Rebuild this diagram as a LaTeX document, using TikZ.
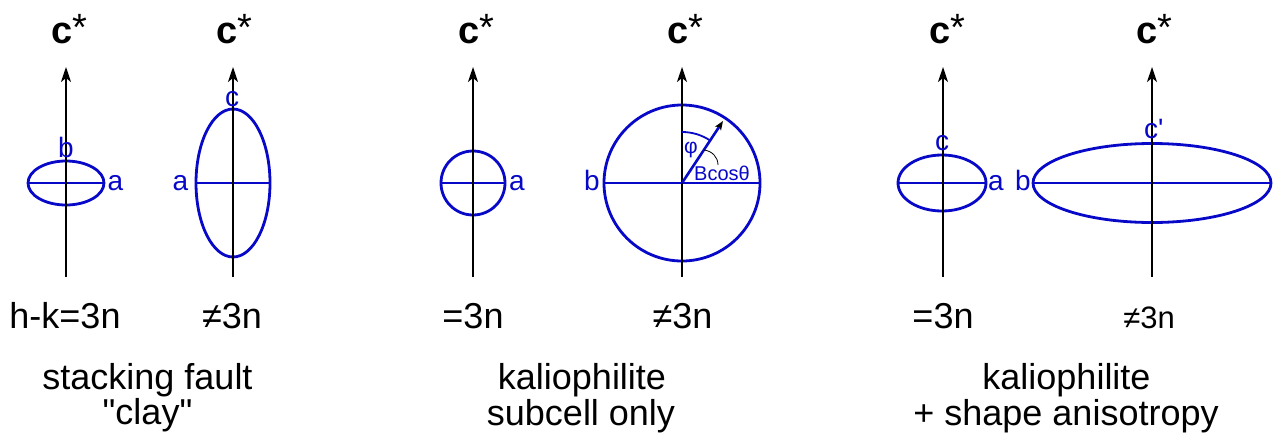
\documentclass[tikz,border=0pt]{standalone}
\usepackage{fontspec}
\setmainfont{Liberation Sans}
\usetikzlibrary{arrows.meta}
\definecolor{eblue}{RGB}{8,8,200}
\newcommand{\cstartext}{c{\mdseries\raisebox{3pt}{*}}}
\begin{document}
\begin{tikzpicture}[x=1pt,y=-1pt,
  axis/.style={line width=1.6pt, -{Stealth[length=15pt,width=10pt,inset=4pt]}},
  shell/.style={draw=eblue, line width=2.8pt},
  mid/.style={draw=eblue, line width=1.3pt},
  blab/.style={text=eblue, font=\fontsize{28}{30}\selectfont, inner sep=0pt, anchor=base},
  cstar/.style={font=\bfseries\fontsize{38}{40}\selectfont, inner sep=0pt, anchor=base},
  cond/.style={font=\fontsize{36}{40}\selectfont, inner sep=0pt, anchor=base},
  capt/.style={font=\fontsize{36}{40}\selectfont, inner sep=0pt, anchor=base}]
\useasboundingbox (0,0) rectangle (1273,434);

% ---------- panel 1 : stacking fault ----------
\draw[shell] (66,183) ellipse [x radius=38pt, y radius=22pt];
\draw[mid] (28,183) -- (104,183);
\draw[shell] (233,183) ellipse [x radius=37pt, y radius=74pt];
\draw[mid] (196,183) -- (270,183);

\coordinate (b1) at (66,277);  \coordinate (t1) at (66,67);
\coordinate (b2) at (233,277); \coordinate (t2) at (233,67);
\draw[axis] (b1) -- (t1);
\draw[axis] (b2) -- (t2);
\node[cstar] (cs1) at (69,43) {\cstartext};
\node[cstar] (cs2) at (234,43) {\cstartext};
\node[blab] (lb1) at (66,157) {b};
\node[blab] (la1) at (115.5,190) {a};
\node[blab] (lc2) at (232,106) {c};
\node[blab] (la2) at (180.5,190) {a};
\node[cond] (n1) at (65,328) {h-k=3n};
\node[cond] (n2) at (232,328) {≠3n};
\node[capt] (cap1a) at (147.5,389) {stacking fault};
\node[capt] (cap1b) at (147.5,424) {\textquotedbl clay\textquotedbl};

% ---------- panel 2 : kaliophilite subcell ----------
\draw[shell] (473,183) circle [radius=32pt];
\draw[mid] (441,183) -- (505,183);
\draw[shell] (682,183) circle [radius=78pt];
\draw[mid] (604,183) -- (760,183);

\coordinate (b3) at (473,277); \coordinate (t3) at (473,67);
\coordinate (b4) at (682,277); \coordinate (t4) at (682,67);
\draw[axis] (b3) -- (t3);
\draw[axis] (b4) -- (t4);
\node[cstar] (cs3) at (476,43) {\cstartext};
\node[cstar] (cs4) at (685,43) {\cstartext};
\node[blab] (la3) at (517,190) {a};
\node[blab] (lb4) at (592,190) {b};

% radial vector and angle
\coordinate (o4) at (682,183);
\coordinate (r4) at (723,121);
\draw[eblue, line width=2.6pt, -{Stealth[length=9pt,width=7pt,inset=2pt,black]}] (o4) -- (r4);
\draw[eblue, line width=1.8pt] (682,132) arc [start angle=90, end angle=56.5, radius=51pt];
\node[text=eblue, font=\fontsize{21}{22}\selectfont, inner sep=0pt, anchor=base] (phi) at (691,153) {φ};
\node[text=eblue, font=\fontsize{20}{22}\selectfont, inner sep=0pt, anchor=base] (bcos) at (722,180) {Bcosθ};
\coordinate (hit) at (704,150);
\draw[line width=0.8pt] (718,165) .. controls (718,157) and (712,151) .. (hit);

\node[cond] (n3) at (473,328) {=3n};
\node[cond] (n4) at (682.5,328) {≠3n};
\node[capt] (cap2a) at (582,389) {kaliophilite};
\node[capt] (cap2b) at (581,425) {subcell only};

% ---------- panel 3 : shape anisotropy ----------
\draw[shell] (942,183) ellipse [x radius=44pt, y radius=28pt];
\draw[mid] (898,183) -- (986,183);
\draw[shell] (1152,183) ellipse [x radius=119pt, y radius=39.5pt];
\draw[mid] (1033,183) -- (1271,183);

\coordinate (b5) at (943,277);  \coordinate (t5) at (943,67);
\coordinate (b6) at (1152,277); \coordinate (t6) at (1152,67);
\draw[axis] (b5) -- (t5);
\draw[axis] (b6) -- (t6);
\node[cstar] (cs5) at (947,43) {\cstartext};
\node[cstar] (cs6) at (1154,43) {\cstartext};
\node[blab] (lc5) at (942,150) {c};
\node[blab] (la5) at (996,190) {a};
\node[blab] (lb6) at (1023,190) {b};
\node[blab, anchor=base west] (lc6) at (1144,138) {c\textquotesingle};

\node[cond] (n5) at (943,328) {=3n};
\node[cond, font=\fontsize{31}{34}\selectfont] (n6) at (1149,328) {≠3n};
\node[capt] (cap3a) at (1066.5,389) {kaliophilite};
\node[capt] (cap3b) at (1066,425) {+ shape anisotropy};
\end{tikzpicture}
\end{document}
